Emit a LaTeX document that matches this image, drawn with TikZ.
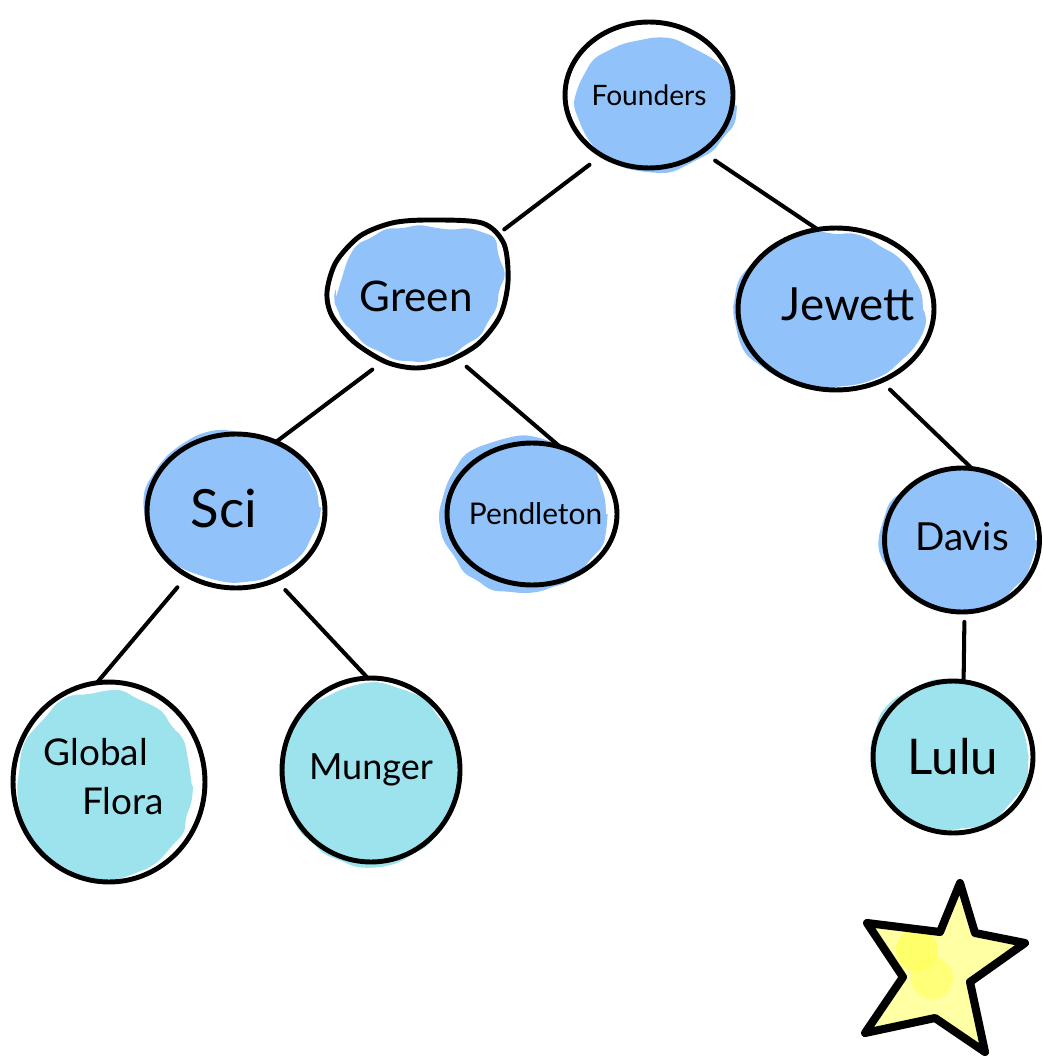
\documentclass[tikz,border=0pt]{standalone}
\usepackage{fontspec}
\setmainfont{Lato}
\usetikzlibrary{shapes.geometric,backgrounds,decorations.pathmorphing}

\definecolor{nodeblue}{HTML}{91C3FA}
\definecolor{leafcyan}{HTML}{9CE3EE}
\definecolor{starpale}{HTML}{FFFFA3}
\definecolor{starglow}{HTML}{FFFF5C}

\tikzset{
  bubble/.style={ellipse, draw=black, line width=2.8pt, inner sep=0pt, outer sep=0pt},
  ghost/.style={ellipse, inner sep=0pt, outer sep=0pt},
  link/.style={line width=2.3pt, line cap=round},
  blob/.style={decorate, decoration={random steps, segment length=9pt, amplitude=1.6pt}, rounded corners=4pt},
}
% text of a bubble, centred without widening the ellipse
\newcommand{\tag}[2]{\makebox[0pt]{\fontsize{#1}{#1}\selectfont #2}}

\begin{document}
\begin{tikzpicture}[x=0.02cm, y=-0.02cm]
\pgfmathsetseed{7}
\useasboundingbox (0,0) rectangle (1042,1060);

% ---- nodes ----
\node[bubble, minimum width=3.36cm, minimum height=2.92cm] (F) at (649,95) {\tag{16}{Founders}};
\node[ghost,  minimum width=3.64cm, minimum height=2.96cm] (G) at (416,296) {\tag{24}{Green}};
\node[bubble, minimum width=3.92cm, minimum height=3.24cm] (J) at (836,309)
  {\tag{26}{\raisebox{5pt}{\hspace*{14pt}Jewett}}};
\node[bubble, minimum width=3.56cm, minimum height=3.08cm] (S) at (236,511)
  {\tag{30}{\raisebox{3pt}{Sci\hspace*{14pt}}}};
\node[bubble, minimum width=3.40cm, minimum height=2.84cm] (P) at (532,514)
  {\tag{17}{\raisebox{-2pt}{\hspace*{4pt}Pendleton}}};
\node[bubble, minimum width=3.10cm, minimum height=2.88cm] (D) at (962,540)
  {\tag{22}{\raisebox{4pt}{Davis}}};
\node[bubble, minimum width=3.84cm, minimum height=4.00cm] (GF) at (109,782)
  {\tag{21}{\raisebox{-7pt}{\begin{tabular}{@{}l@{}}Global\\[6pt]\hspace*{22pt}Flora\end{tabular}\hspace*{6pt}}}};
\node[bubble, minimum width=3.56cm, minimum height=3.68cm] (M) at (371,770) {\tag{20.5}{Munger}};
\node[bubble, minimum width=3.20cm, minimum height=3.04cm] (L) at (953,757) {\tag{28}{Lulu}};

% hand-drawn egg outline of the Green bubble
\draw[line width=2.8pt, shift={(G.center)}] plot[smooth cycle] coordinates {
  (12,-76) (66,-73) (88,-52) (92,-14) (84,20) (62,48) (30,66) (0,72)
  (-30,66) (-62,46) (-84,20) (-89,-4) (-80,-34) (-56,-60) (-24,-73)};

% ---- colour washes behind the bubbles ----
\begin{scope}[on background layer]
  \fill[nodeblue, blob, shift={(F.center)}] (6,10) ellipse [x radius=1.58cm, y radius=1.32cm];
  \fill[nodeblue, blob, shift={(G.center)}, scale=0.9] plot[smooth cycle] coordinates {
    (12,-76) (66,-73) (88,-52) (92,-14) (84,20) (62,48) (30,66) (0,72)
    (-30,66) (-62,46) (-84,20) (-89,-4) (-80,-34) (-56,-60) (-24,-73)};
  \fill[nodeblue, blob, shift={(J.center)}] (-8,1) ellipse [x radius=1.90cm, y radius=1.54cm];
  \fill[nodeblue, blob, shift={(S.center)}] (-4,-4) ellipse [x radius=1.74cm, y radius=1.50cm];
  \fill[nodeblue, blob, shift={(P.center)}] (-9,0) ellipse [x radius=1.66cm, y radius=1.56cm];
  \fill[nodeblue, blob, shift={(D.center)}] (-4,0) ellipse [x radius=1.54cm, y radius=1.40cm];
  \fill[leafcyan, blob, shift={(GF.center)}] (-4,4) ellipse [x radius=1.74cm, y radius=1.88cm];
  \fill[leafcyan, blob, shift={(M.center)}] (-1,5) ellipse [x radius=1.74cm, y radius=1.84cm];
  \fill[leafcyan, blob, shift={(L.center)}] (-3,-2) ellipse [x radius=1.56cm, y radius=1.50cm];
\end{scope}

% ---- connectors ----
\draw[link, shorten <=0.31cm, shorten >=0.54cm] (F.232) -- (G.37);
\draw[link, shorten <=0.32cm] (F.313) -- (J.103);
\draw[link, shorten <=0.19cm] (G.242) -- (S.60);
\draw[link, shorten <=0.18cm] (G.304) -- (P.67);
\draw[link, shorten <=0.25cm] (J.302) -- (D.82);
\draw[link, shorten <=0.31cm] (S.233) -- (GF.97);
\draw[link, shorten <=0.28cm] (S.300) -- (M.92);
\draw[link, shorten <=0.20cm, shorten >=0.06cm] (D.272) -- (L.82);

% ---- star ----
\fill[starpale] (960,883) -- (975,933) -- (1025,943) -- (970,982) -- (985,1052)
  -- (935,1018) -- (865,1033) -- (903,977) -- (867,923) -- (940,932) -- cycle;
\fill[starglow, opacity=0.8] (917,950) circle [radius=0.42cm];
\fill[starglow, opacity=0.6] (932,978) circle [radius=0.42cm];
\draw[line width=4.6pt, line join=round] (960,883) -- (975,933) -- (1025,943) -- (970,982)
  -- (985,1052) -- (935,1018) -- (865,1033) -- (903,977) -- (867,923) -- (940,932) -- cycle;
\end{tikzpicture}
\end{document}
